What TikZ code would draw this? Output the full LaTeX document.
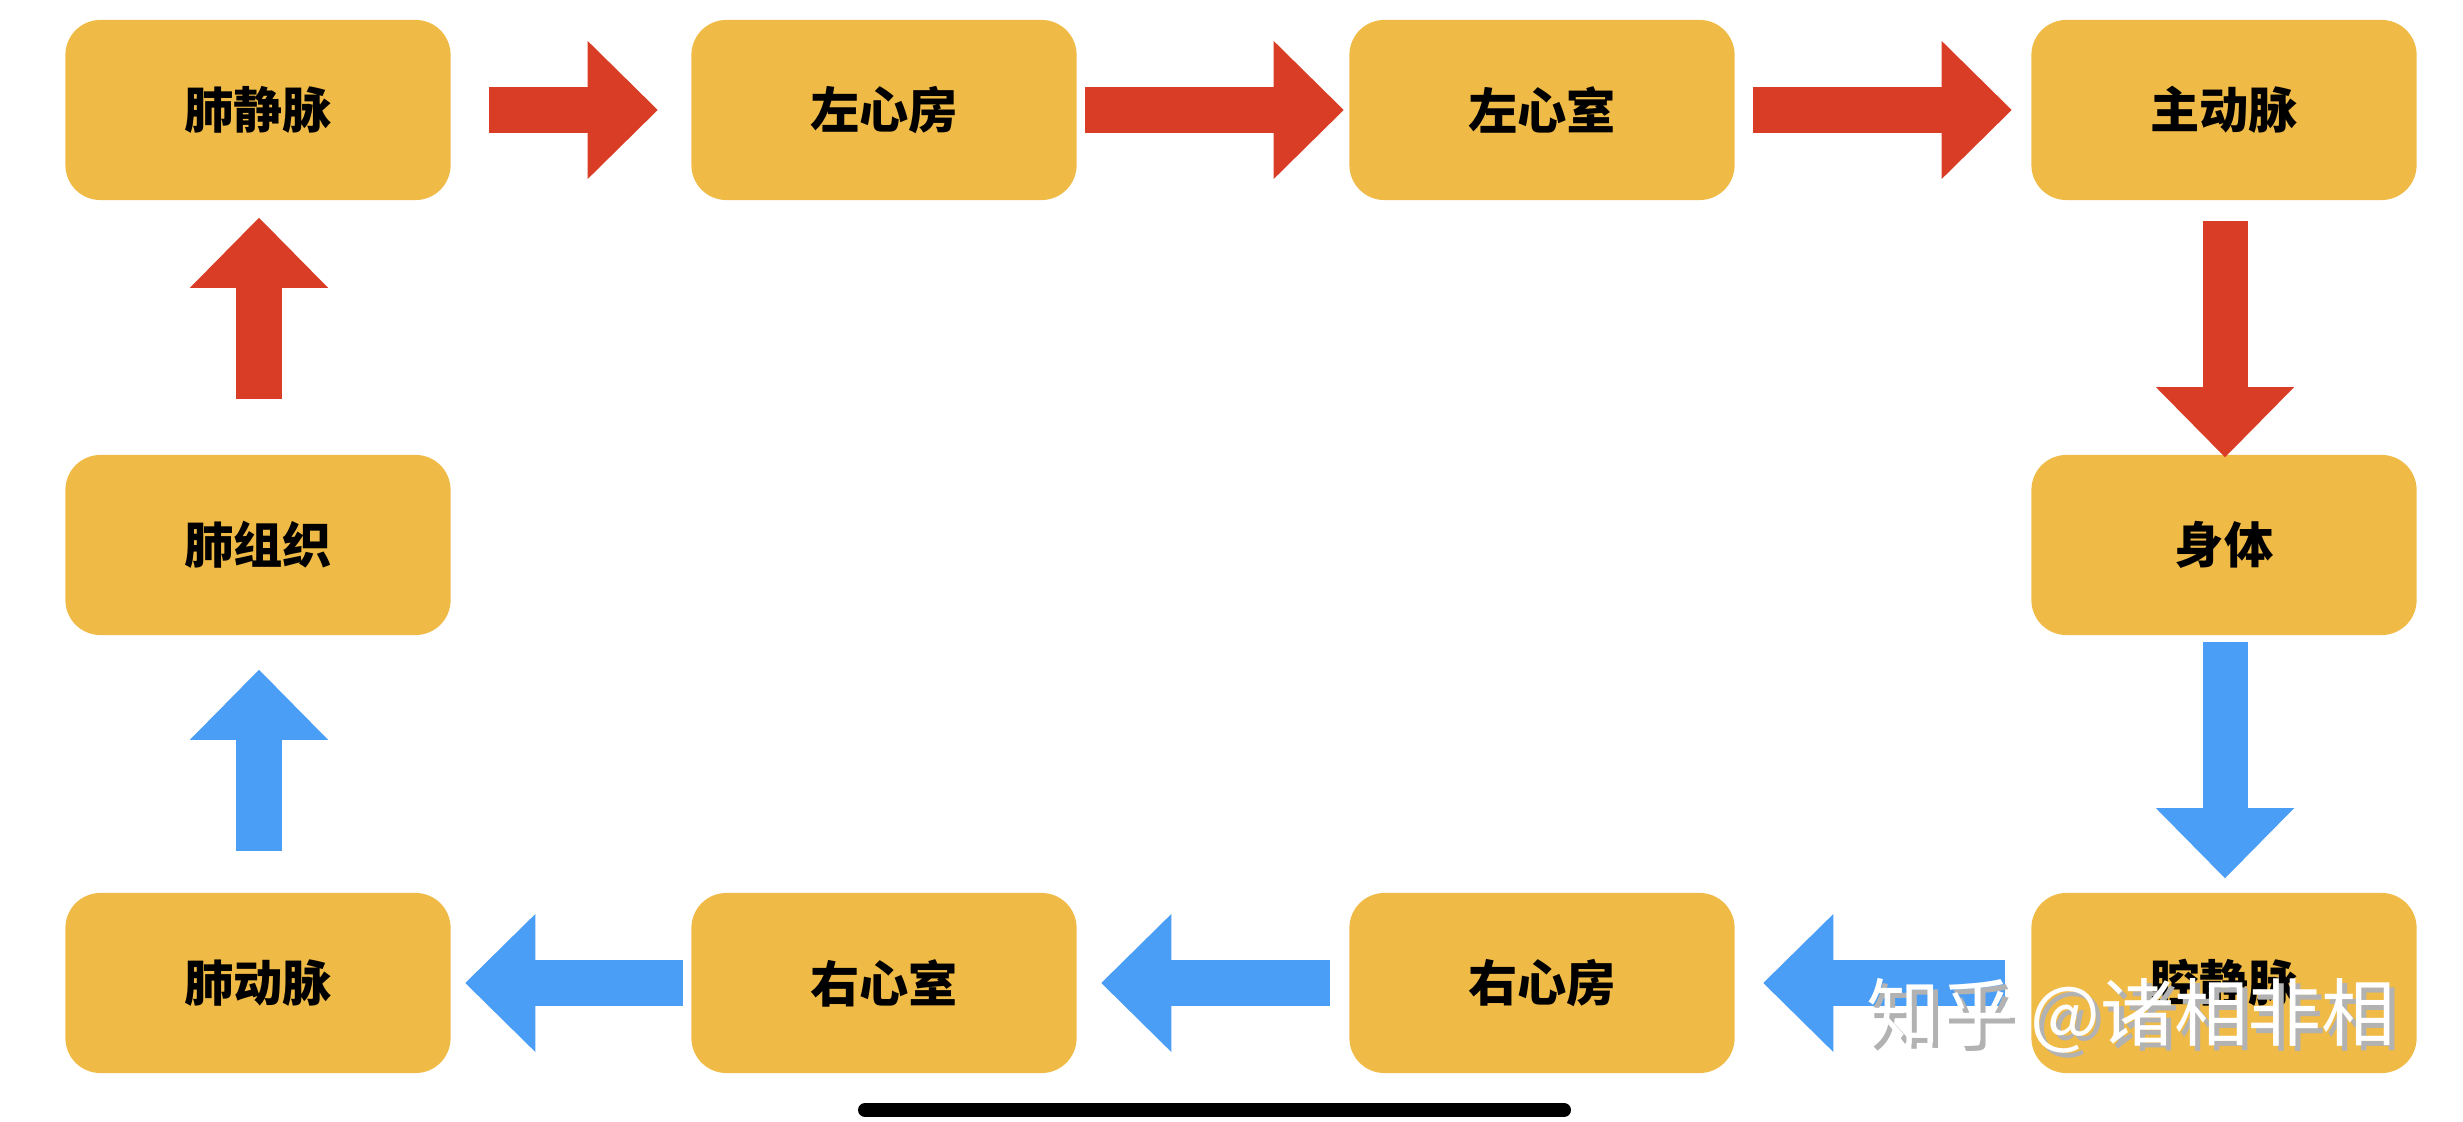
\documentclass[tikz,border=0pt]{standalone}
\usepackage{fontspec}
\setmainfont{Noto Sans CJK SC}
\usetikzlibrary{arrows.meta,calc}

\definecolor{boxyellow}{RGB}{240,186,70}
\definecolor{flowred}{RGB}{217,61,37}
\definecolor{flowblue}{RGB}{74,158,245}

\begin{document}
\begin{tikzpicture}[x=0.01cm, y=-0.01cm,
    organ/.style={rounded corners=0.35cm, fill=boxyellow, minimum width=3.85cm,
        minimum height=1.8cm, inner sep=0pt, font=\fontsize{14}{16}\selectfont\bfseries},
    blockarrow/.style={line width=0.45cm, -{Triangle[length=0.7cm, width=1.38cm, line width=0pt]}},
    redflow/.style={blockarrow, draw=flowred, fill=flowred},
    blueflow/.style={blockarrow, draw=flowblue, fill=flowblue}]
            \useasboundingbox (0,0) rectangle (2463,1122);
            % Top row
            \foreach \name/\txt/\x in {pv/肺静脉/258, la/左心房/884, lv/左心室/1542, ao/主动脉/2224} {
                \node[organ] (\name) at (\x,110) {\txt};
            }
            % Middle row
            \node[organ] (lung) at (258,545) {肺组织};
            \node[organ] (body) at (2224,545) {身体};
            % Bottom row
            \foreach \name/\txt/\x in {pa/肺动脉/258, rv/右心室/884, ra/右心房/1542, vc/腔静脉/2224} {
                \node[organ] (\name) at (\x,983) {\txt};
            }
            % Red arrows
            \draw[redflow] ($(pv.east)+(38,0)$) -- ($(la.west)+(-33,0)$);
            \draw[redflow] ($(la.east)+(8,0)$) -- ($(lv.west)+(-5,0)$);
            \draw[redflow] ($(lv.east)+(18,0)$) -- ($(ao.west)+(-19,0)$);
            \draw[redflow] ($(ao.south)+(1,20)$) -- ($(body.north)+(1,3)$);
            \draw[redflow] ($(lung.north)+(1,-55)$) -- ($(pv.south)+(1,17)$);
            % Blue arrows
            \draw[blueflow] ($(body.south)+(1,6)$) -- ($(vc.north)+(1,-14)$);
            \draw[blueflow] ($(vc.west)+(-26,0)$) -- ($(ra.east)+(28,0)$);
            \draw[blueflow] ($(ra.west)+(-19,0)$) -- ($(rv.east)+(24,0)$);
            \draw[blueflow] ($(rv.west)+(-8,0)$) -- ($(pa.east)+(14,0)$);
            \draw[blueflow] ($(pa.north)+(1,-41)$) -- ($(lung.south)+(1,34)$);
            % Watermark
            \node[text=black!30, font=\fontsize{21}{24}\selectfont] (wmshadow) at (2136,1021) {知乎 @诸相非相};
            \node[text=white, font=\fontsize{21}{24}\selectfont] (wm) at (2131,1016) {知乎 @诸相非相};
            % Home bar
            \draw[line width=0.14cm, line cap=round] (865,1110) -- (1564,1110);
        \end{tikzpicture}
\end{document}
